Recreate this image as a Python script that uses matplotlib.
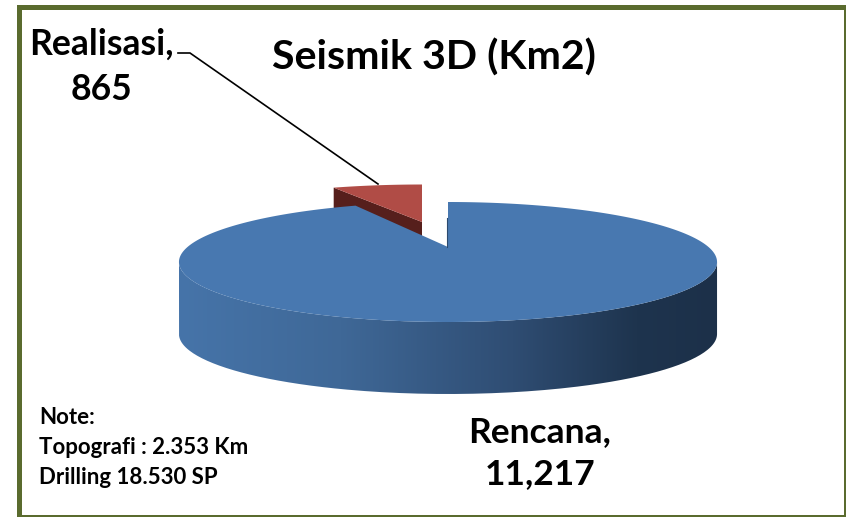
import numpy as np
import matplotlib
matplotlib.use("Agg")
import matplotlib.pyplot as plt
from matplotlib.colors import LinearSegmentedColormap
from matplotlib.patches import PathPatch, Polygon, Rectangle
from matplotlib.path import Path

categories = ["Rencana", "Realisasi"]
values = [11217, 865]
title = "Seismik 3D (Km2)"
note_lines = ["Note:", "Topografi : 2.353 Km", "Drilling 18.530 SP"]

OLIVE = "#5a6b2e"
BLUE = "#4878b0"
RED = "#b04c46"
DARK_RED = "#561f1c"

# perspective of the pie disc
CX = 448
R = 260.5
K = 0.25
THICK = 72


def project(u, v):
    w = 1 / (1 + K * v)
    return CX + R * u * w, (247 + 5.5 * v) * w


def arc(start, end, ru=1.0, rv=1.0, n=200):
    # angles in degrees clockwise from 12 o'clock
    t = np.radians(np.linspace(start, end, n))
    return project(np.sin(t) * ru, np.cos(t) * rv)


plt.rcParams["font.family"] = ["Lato", "DejaVu Sans"]
fig = plt.figure(figsize=(8.46, 5.17), dpi=100)
ax = fig.add_axes([0, 0, 1, 1])

# frame
ax.add_patch(Rectangle((17, 5), 829, 512, fc=OLIVE, ec="none"))
ax.add_patch(Rectangle((22, 10), 822, 505, fc="white", ec="none"))

sweep = 360 * values[0] / sum(values)

# exploded small slice
rx, ry = arc(sweep, 360, ru=0.92, rv=0.8, n=40)
rx = rx + 422 - CX
ry = ry - 25
ax_x = 422
ax_y = 222
side = Polygon([(rx[0], ry[0]), (ax_x, ax_y), (ax_x, ax_y + THICK), (rx[0], ry[0] + THICK)],
               closed=True, fc=DARK_RED, ec="none", zorder=2)
ax.add_patch(side)
red_pts = np.vstack([np.column_stack([rx, ry]), [(ax_x, ax_y)]])
ax.add_patch(Polygon(red_pts, closed=True, fc=RED, ec="none", zorder=3))

# outer wall of the big slice, shaded left to right
widest = np.degrees(np.arcsin(K))
fx, fy = arc(90 + widest, 270 - widest)
wall = np.vstack([np.column_stack([fx, fy]),
                  np.column_stack([fx[::-1], fy[::-1] + THICK])])
wall_cmap = LinearSegmentedColormap.from_list(
    "wall", [(0, "#4674a9"), (0.3, "#3f6897"), (0.62, "#2f4d73"), (0.85, "#1e344e"), (1, "#1c3049")])
grad = ax.imshow(np.linspace(0, 1, 256).reshape(1, -1), cmap=wall_cmap, aspect="auto",
                 extent=(fx.min(), fx.max(), fy.max() + THICK, fy.min()), zorder=4)
clip = PathPatch(Path(np.vstack([wall, wall[0]])), transform=ax.transData, fc="none", ec="none")
ax.add_patch(clip)
grad.set_clip_path(clip)

# top face of the big slice
bx, by = arc(0, sweep, n=400)
blue_pts = np.vstack([np.column_stack([bx, by]), project(0, 0)])
ax.add_patch(Polygon(blue_pts, closed=True, fc=BLUE, ec="none", zorder=5))
ax.plot([CX - 1, CX - 1], [218, 247], color="#2c4a6e", lw=0.8, zorder=6)

# leader line for the small slice
ax.plot([178, 190, 378], [53, 53, 184], color="black", lw=1.2, zorder=7, solid_joinstyle="miter")

ax.text(434, 58, title, fontsize=29.6, fontweight="bold", ha="center", va="center", zorder=8)
ax.text(101, 67, f"{categories[1]},\n{values[1]:,}", fontsize=25.6, fontweight="bold",
        ha="center", va="center", linespacing=1.44, zorder=8)
ax.text(540, 453, f"{categories[0]},\n{values[0]:,}", fontsize=25.5, fontweight="bold",
        ha="center", va="center", linespacing=1.41, zorder=8)
for y, line in zip([418, 447, 477], note_lines):
    ax.text(39, y, line, fontsize=16, fontweight="bold", ha="left", va="center", zorder=8)

ax.set_xlim(0, 846)
ax.set_ylim(517, 0)
ax.axis("off")
fig.savefig("out.png", dpi=100, facecolor="white")
